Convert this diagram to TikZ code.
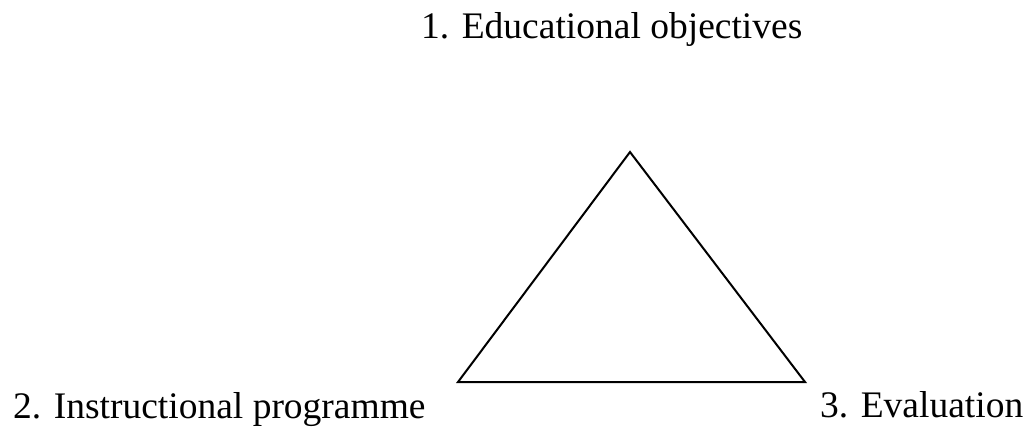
\documentclass[tikz,border=0pt]{standalone}
\usepackage{fontspec}
\setmainfont{Liberation Serif}
\begin{document}
\begin{tikzpicture}[x=1pt,y=1pt,every node/.style={font=\fontsize{37.5}{44}\selectfont,inner sep=0pt,anchor=base west}]
  \useasboundingbox (0,0) rectangle (1025,429);
  \coordinate (top) at (630,277);
  \coordinate (left) at (458,47);
  \coordinate (right) at (805,47);
  \draw[line width=2pt] (top) -- (left) -- (right) -- cycle;
  \node (obj) at (421,390) {1. Educational objectives};
  \node (prog) at (13,11) {2. Instructional programme};
  \node (eval) at (820,12) {3. Evaluation};
\end{tikzpicture}
\end{document}
